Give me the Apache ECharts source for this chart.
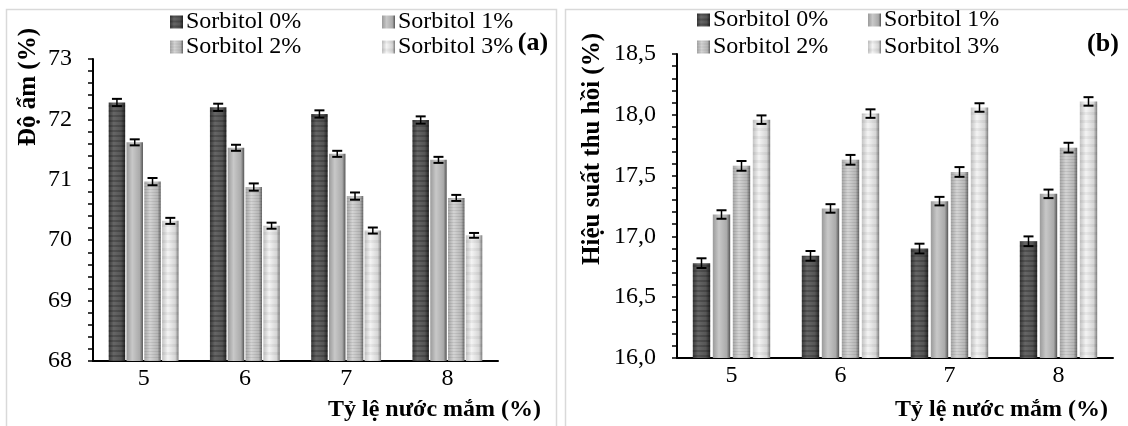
<!DOCTYPE html>
<html><head><meta charset="utf-8">
<script src="https://cdn.jsdelivr.net/npm/echarts@6/dist/echarts.min.js"></script>
<style>html,body{margin:0;padding:0;background:#fff}#c{width:1128px;height:426px}</style>
</head><body><div id="c"></div>
<script>
const categories = ['5', '6', '7', '8'];
const seriesNames = ['Sorbitol 0%', 'Sorbitol 1%', 'Sorbitol 2%', 'Sorbitol 3%'];
// Panel (a): Độ ẩm (%)
const moisture0 = [72.28, 72.20, 72.09, 71.99];
const moisture1 = [71.62, 71.53, 71.43, 71.33];
const moisture2 = [70.97, 70.88, 70.73, 70.70];
const moisture3 = [70.32, 70.24, 70.16, 70.08];
const moistureErr0 = [0.06, 0.06, 0.06, 0.06];
const moistureErr1 = [0.05, 0.05, 0.05, 0.05];
const moistureErr2 = [0.06, 0.06, 0.06, 0.05];
const moistureErr3 = [0.05, 0.05, 0.05, 0.04];
// Panel (b): Hiệu suất thu hồi (%)
const yield0 = [16.78, 16.84, 16.90, 16.96];
const yield1 = [17.18, 17.23, 17.29, 17.35];
const yield2 = [17.58, 17.63, 17.53, 17.73];
const yield3 = [17.96, 18.01, 18.06, 18.11];
const yieldErr0 = [0.04, 0.04, 0.04, 0.04];
const yieldErr1 = [0.035, 0.035, 0.035, 0.035];
const yieldErr2 = [0.04, 0.04, 0.04, 0.04];
const yieldErr3 = [0.035, 0.035, 0.035, 0.035];
const moistureTicks = ['68', '69', '70', '71', '72', '73'];
const yieldTicks = ['16,0', '16,5', '17,0', '17,5', '18,0', '18,5'];

const FONT = 'Liberation Serif';

function grad(stops) {
  return new echarts.graphic.LinearGradient(0, 0, 1, 0, stops.map((c) => ({offset: c[0], color: c[1]})));
}
const fills = [
  grad([[0, '#3a3a3a'], [0.3, '#666666'], [0.75, '#555555'], [1, '#262626']]),
  grad([[0, '#9a9a9a'], [0.35, '#c8c8c8'], [0.8, '#aaaaaa'], [1, '#555555']]),
  grad([[0, '#a6a6a6'], [0.35, '#d4d4d4'], [0.8, '#b6b6b6'], [1, '#666666']]),
  grad([[0, '#c4c4c4'], [0.35, '#f4f4f4'], [0.8, '#d6d6d6'], [1, '#7e7e7e']])
];
const decals = [
  {symbol: 'rect', symbolSize: 1, dashArrayX: [1, 0], dashArrayY: [2, 3], color: 'rgba(0,0,0,0.2)'},
  null,
  {symbol: 'rect', symbolSize: 1, dashArrayX: [1, 0], dashArrayY: [1, 2], color: 'rgba(0,0,0,0.08)'},
  {symbol: 'rect', symbolSize: 1, dashArrayX: [1, 0], dashArrayY: [3, 5], color: 'rgba(0,0,0,0.05)'}
];

const panelA = {values: [moisture0, moisture1, moisture2, moisture3], errs: [moistureErr0, moistureErr1, moistureErr2, moistureErr3], catGap: 0.31, barGap: 0.08};
const panelB = {values: [yield0, yield1, yield2, yield3], errs: [yieldErr0, yieldErr1, yieldErr2, yieldErr3], catGap: 0.29, barGap: 0.15};

function errRender(catGap, barGap) {
  return function (params, api) {
    const ci = api.value(0), v = api.value(1), e = api.value(2), si = api.value(3);
    const W = api.size([1, 0])[0];
    const n = 4;
    const bw = W * (1 - catGap) / (n + (n - 1) * barGap);
    const groupW = bw * n + bw * barGap * (n - 1);
    const cx = api.coord([ci, v])[0];
    const x = cx - groupW / 2 + si * bw * (1 + barGap) + bw / 2;
    const yT = api.coord([ci, v + e])[1], yB = api.coord([ci, v - e])[1];
    const hw = 5;
    return {type: 'group', children: [
      {type: 'line', shape: {x1: x, y1: yT, x2: x, y2: yB}, style: {stroke: '#000', lineWidth: 1.5}},
      {type: 'line', shape: {x1: x - hw, y1: yT, x2: x + hw, y2: yT}, style: {stroke: '#000', lineWidth: 2}},
      {type: 'line', shape: {x1: x - hw, y1: yB, x2: x + hw, y2: yB}, style: {stroke: '#000', lineWidth: 2}}
    ]};
  };
}

function buildSeries(panel, gi) {
  const out = [];
  panel.values.forEach((vals, si) => {
    const s = {
      name: seriesNames[si], type: 'bar', xAxisIndex: gi, yAxisIndex: gi,
      data: vals, barCategoryGap: (panel.catGap * 100) + '%', barGap: (panel.barGap * 100) + '%',
      itemStyle: {color: fills[si]}, silent: true
    };
    if (decals[si]) s.itemStyle.decal = decals[si];
    out.push(s);
  });
  const errData = [];
  panel.values.forEach((vals, si) => vals.forEach((v, ci) => errData.push([ci, v, panel.errs[si][ci], si])));
  out.push({type: 'custom', xAxisIndex: gi, yAxisIndex: gi, renderItem: errRender(panel.catGap, panel.barGap), data: errData, z: 10, silent: true});
  return out;
}

function xAxisOf(gi) {
  return {type: 'category', gridIndex: gi, data: categories,
    axisLine: {lineStyle: {color: '#000', width: 2}}, axisTick: {show: false},
    axisLabel: {color: '#000', fontSize: 24, fontFamily: FONT, margin: 6}};
}
function yAxisOf(gi, min, max, interval, ticks) {
  return {type: 'value', gridIndex: gi, min: min, max: max, interval: interval,
    axisLine: {show: true, lineStyle: {color: '#000', width: 2}},
    axisTick: {show: true, length: 5, lineStyle: {color: '#000', width: 1.5}},
    minorTick: {show: true, splitNumber: 5, length: 5, lineStyle: {color: '#000', width: 1.5}},
    splitLine: {show: false},
    axisLabel: {color: '#000', fontSize: 24, fontFamily: FONT, margin: 21,
      formatter: v => ticks[Math.round((v - min) / interval)]}};
}

const legendPos = [
  // panel a
  {name: seriesNames[0], left: 170, top: 10}, {name: seriesNames[1], left: 382, top: 10},
  {name: seriesNames[2], left: 170, top: 35}, {name: seriesNames[3], left: 382, top: 35},
  // panel b
  {name: seriesNames[0], left: 697, top: 8}, {name: seriesNames[1], left: 868, top: 8},
  {name: seriesNames[2], left: 697, top: 35}, {name: seriesNames[3], left: 868, top: 35}
];

const option = {
  animation: false,
  backgroundColor: '#fff',
  grid: [
    {left: 93, top: 59, width: 405, height: 302},
    {left: 677, top: 54, width: 436, height: 304}
  ],
  xAxis: [xAxisOf(0), xAxisOf(1)],
  yAxis: [yAxisOf(0, 68, 73, 1, moistureTicks), yAxisOf(1, 16, 18.5, 0.5, yieldTicks)],
  legend: legendPos.map(p => ({data: [p.name], left: p.left, top: p.top, icon: 'rect', itemWidth: 13, itemHeight: 13, itemGap: 4,
    selectedMode: false, padding: 0, textStyle: {color: '#000', fontSize: 24, fontFamily: FONT, padding: [0, 0, 0, -2]}})),
  series: buildSeries(panelA, 0).concat(buildSeries(panelB, 1)),
  graphic: [
    {type: 'rect', shape: {x: 6.5, y: 9.5, width: 550, height: 430}, style: {fill: 'none', stroke: '#d9d9d9', lineWidth: 1.5}, silent: true},
    {type: 'rect', shape: {x: 565.5, y: 9.5, width: 580, height: 430}, style: {fill: 'none', stroke: '#d9d9d9', lineWidth: 1.5}, silent: true},
    {type: 'text', x: 29, y: 87, rotation: Math.PI / 2, style: {text: 'Độ ẩm (%)', font: 'bold 25px "Liberation Serif"', fill: '#000', align: 'center', verticalAlign: 'middle'}},
    {type: 'text', x: 593, y: 149, rotation: Math.PI / 2, style: {text: 'Hiệu suất thu hồi (%)', font: 'bold 25px "Liberation Serif"', fill: '#000', align: 'center', verticalAlign: 'middle'}},
    {type: 'text', x: 541, y: 410, style: {text: 'Tỷ lệ nước mắm (%)', font: 'bold 24px "Liberation Serif"', fill: '#000', align: 'right', verticalAlign: 'middle'}},
    {type: 'text', x: 1108, y: 410, style: {text: 'Tỷ lệ nước mắm (%)', font: 'bold 24px "Liberation Serif"', fill: '#000', align: 'right', verticalAlign: 'middle'}},
    {type: 'text', x: 533, y: 43, style: {text: '(a)', font: 'bold 26px "Liberation Serif"', fill: '#000', align: 'center', verticalAlign: 'middle'}},
    {type: 'text', x: 1103, y: 44, style: {text: '(b)', font: 'bold 26px "Liberation Serif"', fill: '#000', align: 'center', verticalAlign: 'middle'}}
  ]
};
const chart = echarts.init(document.getElementById('c'), null, {renderer: 'canvas'});
chart.setOption(option);
</script>
</body></html>
